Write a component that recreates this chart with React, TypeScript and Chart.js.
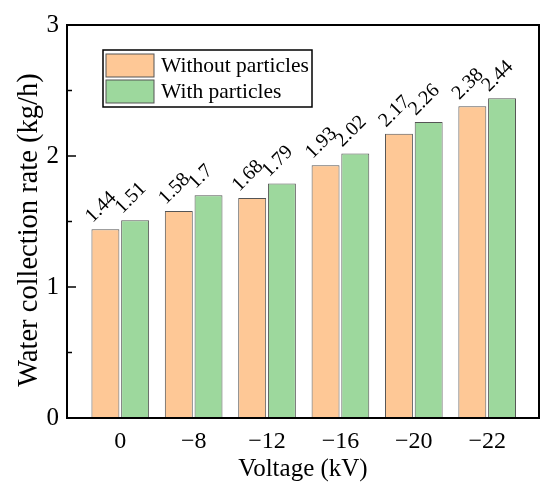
import React, { useEffect, useRef } from "react";
import { Chart, registerables } from "chart.js";

Chart.register(...registerables);

const categories = ["0", "\u22128", "\u221212", "\u221216", "\u221220", "\u221222"];
const withoutParticles = [1.44, 1.58, 1.68, 1.93, 2.17, 2.38];
const withParticles = [1.51, 1.7, 1.79, 2.02, 2.26, 2.44];
const seriesNames = ["Without particles", "With particles"];
const yTicks = [0, 1, 2, 3];
const yTitle = "Water collection rate (kg/h)";

const FONT = "'Liberation Serif', 'Times New Roman', serif";
const ORANGE = "#FEC896";
const GREEN = "#9DD89D";
const EDGE = "#555555";

const framePlugin = {
  id: "frame",
  afterDraw(chart: any) {
    const { ctx, chartArea } = chart;
    const { left, right, top, bottom } = chartArea;
    const y = chart.scales.y;
    ctx.save();
    // data labels
    ctx.fillStyle = "#000";
    ctx.font = `20px ${FONT}`;
    ctx.textAlign = "left";
    ctx.textBaseline = "alphabetic";
    chart.data.datasets.forEach((ds: any, di: number) => {
      const meta = chart.getDatasetMeta(di);
      meta.data.forEach((bar: any, i: number) => {
        const v = ds.data[i].y;
        ctx.save();
        ctx.translate(bar.x - 13, bar.y - 6);
        ctx.rotate(-Math.PI / 4);
        ctx.fillText(String(v), 0, 0);
        ctx.restore();
      });
    });
    // y title
    ctx.save();
    ctx.font = `28.5px ${FONT}`;
    ctx.textAlign = "center";
    ctx.textBaseline = "alphabetic";
    ctx.translate(37, 230);
    ctx.rotate(-Math.PI / 2);
    ctx.fillText(yTitle, 0, 0);
    ctx.restore();
    // frame
    ctx.strokeStyle = "#000";
    ctx.lineWidth = 2;
    ctx.strokeRect(left, top, right - left, bottom - top);
    // inward ticks
    ctx.lineWidth = 1.5;
    for (let v = 0; v <= 3.0001; v += 0.5) {
      const py = y.getPixelForValue(v);
      const major = Math.abs(v - Math.round(v)) < 1e-6;
      ctx.beginPath();
      ctx.moveTo(left, py);
      ctx.lineTo(left + (major ? 9 : 5), py);
      ctx.stroke();
    }
    // legend
    const lx = 103, ly = 50, lw = 209, lh = 57;
    ctx.fillStyle = "#fff";
    ctx.fillRect(lx, ly, lw, lh);
    ctx.strokeStyle = "#000";
    ctx.lineWidth = 1.5;
    ctx.strokeRect(lx, ly, lw, lh);
    const colors = [ORANGE, GREEN];
    ctx.font = `21.5px ${FONT}`;
    ctx.textBaseline = "middle";
    for (let k = 0; k < 2; k++) {
      const sy = ly + 4 + k * 26;
      ctx.fillStyle = colors[k];
      ctx.fillRect(lx + 3, sy, 48, 23);
      ctx.strokeStyle = EDGE;
      ctx.lineWidth = 1;
      ctx.strokeRect(lx + 3, sy, 48, 23);
      ctx.fillStyle = "#000";
      ctx.fillText(seriesNames[k], lx + 58, sy + 12);
    }
    ctx.restore();
  },
};

export default function App() {
  const ref = useRef<HTMLCanvasElement>(null);
  useEffect(() => {
    document.body.style.margin = "0";
    const toPoints = (arr: number[]) => arr.map((v, i) => ({ x: i, y: v }));
    const chart = new Chart(ref.current!, {
      type: "bar",
      data: {
        datasets: [
          {
            label: seriesNames[0],
            data: toPoints(withoutParticles),
            backgroundColor: ORANGE,
            borderColor: EDGE,
            borderWidth: 1,
            barPercentage: 0.94,
            categoryPercentage: 0.81,
          },
          {
            label: seriesNames[1],
            data: toPoints(withParticles),
            backgroundColor: GREEN,
            borderColor: EDGE,
            borderWidth: 1,
            barPercentage: 0.94,
            categoryPercentage: 0.81,
          },
        ],
      },
      options: {
        animation: false,
        responsive: false,
        maintainAspectRatio: false,
        layout: { padding: { left: 0, right: 11, top: 25, bottom: 0 } },
        plugins: { legend: { display: false }, tooltip: { enabled: false } },
        scales: {
          x: {
            type: "linear",
            min: -0.726,
            max: 5.706,
            offset: false,
            afterBuildTicks(scale: any) {
              scale.ticks = categories.map((_, i) => ({ value: i }));
            },
            grid: { display: false, drawTicks: false },
            border: { display: false },
            ticks: {
              color: "#000",
              font: { family: FONT, size: 24 },
              padding: 9,
              autoSkip: false,
              maxRotation: 0,
              callback: (v: any) => categories[Number(v)] ?? "",
            },
            title: {
              display: true,
              text: "Voltage (kV)",
              color: "#000",
              font: { family: FONT, size: 25 },
              padding: { top: 0, bottom: 4 },
            },
            afterFit(scale: any) {
              scale.height = 70;
            },
          },
          y: {
            min: 0,
            max: 3,
            afterBuildTicks(scale: any) {
              scale.ticks = yTicks.map((v) => ({ value: v }));
            },
            grid: { display: false, drawTicks: false },
            border: { display: false },
            ticks: { color: "#000", font: { family: FONT, size: 25 }, padding: 8 },
            afterFit(scale: any) {
              scale.width = 67;
            },
          },
        },
      },
      plugins: [framePlugin],
    });
    return () => chart.destroy();
  }, []);
  return <canvas ref={ref} width={550} height={488} style={{ display: "block" }} />;
}
